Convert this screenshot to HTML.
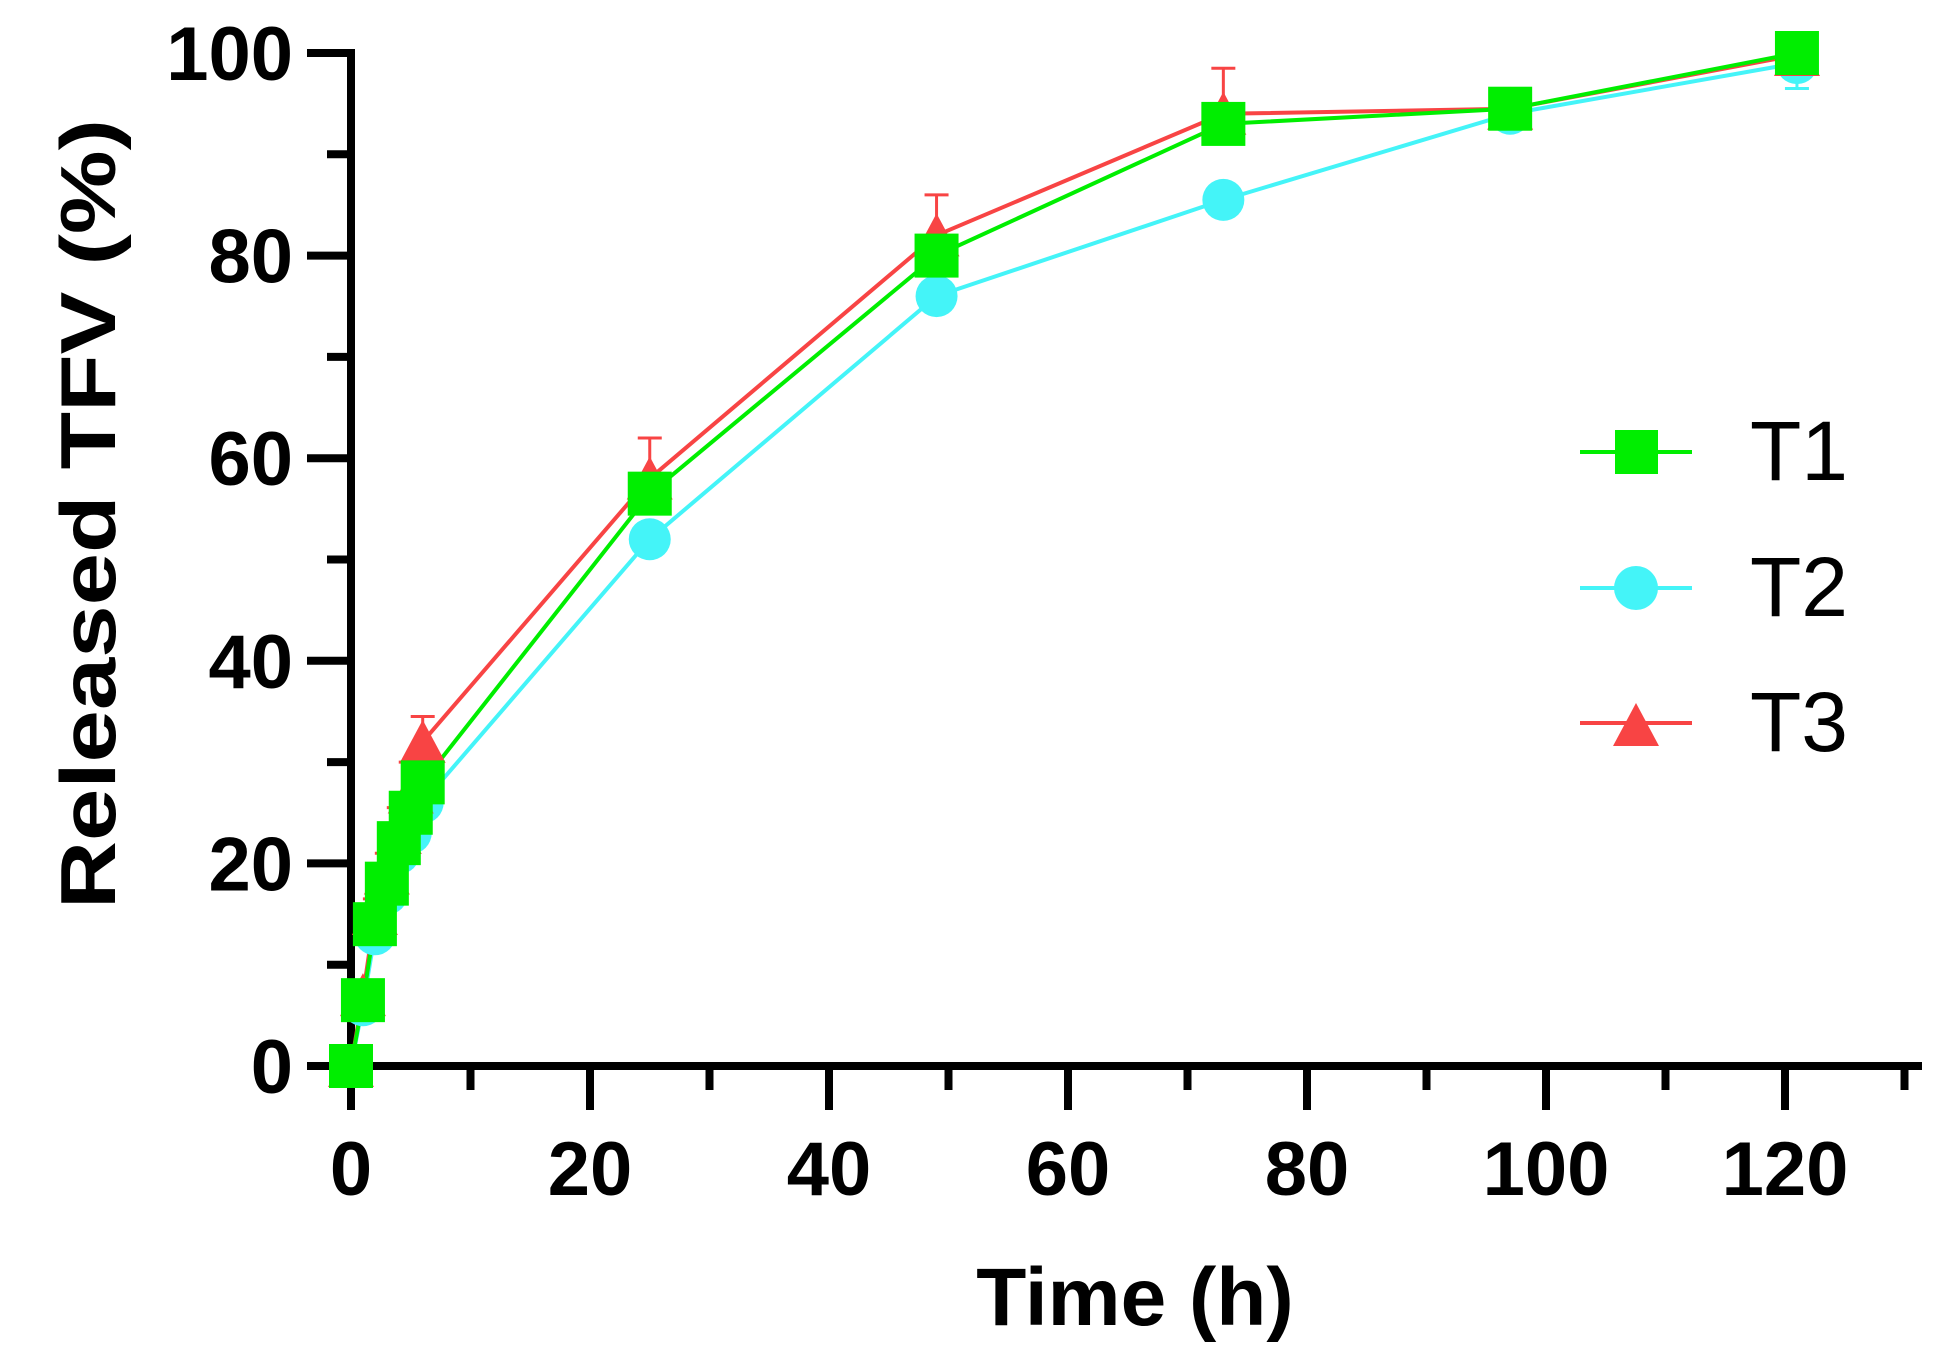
<!DOCTYPE html>
<html><head><meta charset="utf-8"><style>html,body{margin:0;padding:0;background:#fff}svg{display:block}</style></head>
<body>
<svg width="1956" height="1364" viewBox="0 0 1956 1364" xmlns="http://www.w3.org/2000/svg" font-family="Liberation Sans, Arial, sans-serif">
<g id="axes" stroke="#000" stroke-width="8" fill="none">
<line x1="351" y1="49" x2="351" y2="1070"/>
<line x1="347" y1="1066" x2="1922" y2="1066"/>
</g>
<g stroke="#000" stroke-width="8" id="yt"></g>
<g stroke="#000" stroke-width="8" id="xt"></g>
<g font-weight="bold" font-size="76" fill="#000" id="ylab" text-anchor="end"></g>
<g font-weight="bold" font-size="76" fill="#000" id="xlab" text-anchor="middle"></g>
<text x="1135" y="1325" font-weight="bold" font-size="82" text-anchor="middle">Time (h)</text>
<text transform="translate(115,514) rotate(-90)" font-weight="bold" font-size="78" text-anchor="middle" textLength="790" lengthAdjust="spacingAndGlyphs">Released TFV (%)</text>
<g id="plot"></g>
<g id="legend">
<line x1="1580" y1="452" x2="1692" y2="452" stroke="#00ee00" stroke-width="4"/>
<rect x="1615" y="430" width="43" height="44" fill="#00ee00"/>
<text x="1750" y="480" font-size="84">T1</text>
<line x1="1580" y1="588" x2="1692" y2="588" stroke="#44f4f8" stroke-width="4"/>
<circle cx="1636" cy="588" r="22" fill="#44f4f8"/>
<text x="1750" y="616" font-size="84">T2</text>
<line x1="1580" y1="723" x2="1692" y2="723" stroke="#f84444" stroke-width="4"/>
<polygon points="1636,703 1659,746 1613,746" fill="#f84444"/>
<text x="1750" y="751" font-size="84">T3</text>
</g>
<script>
var NS="http://www.w3.org/2000/svg";
function X(v){return 351+v*11.95}function Y(v){return 1066-v*10.13}
function el(p,t,a,txt){var e=document.createElementNS(NS,t);for(var k in a)e.setAttribute(k,a[k]);if(txt!=null)e.textContent=txt;document.getElementById(p).appendChild(e);return e}
for(var v=10;v<=100;v+=10){var maj=v%20==0;el('yt','line',{x1:maj?307:327,y1:Y(v),x2:351,y2:Y(v)})}
el('yt','line',{x1:307,y1:Y(0),x2:351,y2:Y(0)});
for(var v=0;v<=100;v+=20)el('ylab','text',{x:293,y:Y(v)+27},v);
for(var v=0;v<=130;v+=10){var maj=v%20==0;el('xt','line',{x1:X(v),y1:1066,x2:X(v),y2:maj?1110:1090})}
for(var v=0;v<=120;v+=20)el('xlab','text',{x:X(v),y:1195},v);
var t=[0,1,2,3,4,5,6,25,49,73,97,121];
var T1=[0,6.5,14,18,22,25,28,56.5,80,93,94.5,100];
var T2=[0,6,13,17,21,23,26,52,76,85.5,94,99];
var T3=[0,7,15,19,23,27,32,58,82,94,94.5,99.8];
var E3=[0,1,1.5,2,2.5,3,2.5,4,4,4.5,0,0];
var E2=[0,0,0,0,0,0,0,0,0,0,0,-2.5];
function poly(d,c){var s=t.map(function(x,i){return X(x)+','+Y(d[i])}).join(' ');el('plot','polyline',{points:s,fill:'none',stroke:c,'stroke-width':4})}
// error bars
t.forEach(function(x,i){if(E3[i]){el('plot','line',{x1:X(x),y1:Y(T3[i]),x2:X(x),y2:Y(T3[i]+E3[i]),stroke:'#f84444','stroke-width':3});el('plot','line',{x1:X(x)-12,y1:Y(T3[i]+E3[i]),x2:X(x)+12,y2:Y(T3[i]+E3[i]),stroke:'#f84444','stroke-width':3})}
if(E2[i]){el('plot','line',{x1:X(x),y1:Y(T2[i]),x2:X(x),y2:Y(T2[i]+E2[i]),stroke:'#44f4f8','stroke-width':3});el('plot','line',{x1:X(x)-12,y1:Y(T2[i]+E2[i]),x2:X(x)+12,y2:Y(T2[i]+E2[i]),stroke:'#44f4f8','stroke-width':3})}});
poly(T2,'#44f4f8');poly(T3,'#f84444');poly(T1,'#00ee00');
t.forEach(function(x,i){el('plot','circle',{cx:X(x),cy:Y(T2[i]),r:21,fill:'#44f4f8'})});
t.forEach(function(x,i){var cx=X(x),cy=Y(T3[i]);el('plot','polygon',{points:cx+','+(cy-22)+' '+(cx+23)+','+(cy+21)+' '+(cx-23)+','+(cy+21),fill:'#f84444'})});
t.forEach(function(x,i){el('plot','rect',{x:X(x)-22,y:Y(T1[i])-22,width:44,height:44,fill:'#00ee00'})});
</script>
</svg>
</body></html>
